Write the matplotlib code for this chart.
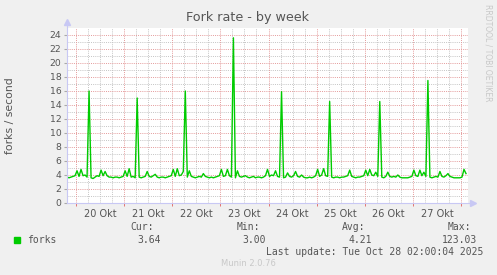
import numpy as np
import matplotlib
matplotlib.use('Agg')
import matplotlib.pyplot as plt

# fork rate, one value per hour over the week window (hour 0 = start of graph)
forks = [
    3.7, 3.6, 3.7, 3.8, 3.9, 4.6, 3.8, 4.8, 3.9, 4.0,
    3.7, 16.0, 3.6, 3.5, 3.7, 3.9, 3.8, 4.7, 3.9, 4.5,
    3.9, 3.7, 3.7, 3.6, 3.7, 3.7, 3.6, 3.7, 3.8, 4.6,
    3.8, 4.9, 3.7, 3.8, 3.6, 15.0, 3.7, 3.6, 3.7, 3.8,
    4.5, 3.8, 3.7, 3.9, 4.1, 3.7, 3.6, 3.7, 3.7, 3.6,
    3.7, 3.8, 3.9, 4.8, 3.8, 4.9, 3.9, 4.0, 4.5, 16.0,
    3.7, 4.6, 3.8, 3.7, 3.6, 3.7, 3.8, 3.7, 4.2, 3.8,
    3.7, 3.6, 3.7, 3.6, 3.7, 3.8, 3.9, 4.8, 3.8, 3.9,
    4.8, 3.9, 3.7, 23.6, 3.6, 4.6, 3.8, 3.7, 3.8, 3.9,
    3.7, 3.6, 3.7, 3.8, 3.6, 3.7, 3.7, 3.6, 3.7, 3.9,
    4.8, 3.8, 4.0, 3.9, 4.6, 3.8, 3.7, 15.9, 3.6, 3.7,
    4.3, 3.8, 3.7, 3.9, 4.5, 3.8, 3.7, 4.0, 3.7, 3.6,
    3.6, 3.7, 3.6, 3.7, 3.9, 4.8, 3.8, 4.0, 4.9, 3.9,
    3.8, 14.5, 3.7, 3.6, 3.7, 3.7, 3.6, 3.7, 3.7, 3.8,
    3.9, 4.7, 3.8, 3.7, 3.6, 3.7, 3.7, 3.8, 3.9, 4.7,
    3.9, 4.8, 4.0, 3.9, 4.4, 3.8, 14.5, 3.7, 3.6, 3.8,
    4.4, 3.8, 3.7, 3.8, 3.7, 4.0, 3.7, 3.6, 3.6, 3.6,
    3.6, 3.7, 3.8, 4.7, 3.9, 3.8, 4.7, 3.9, 4.4, 3.8,
    17.5, 3.7, 3.6, 3.7, 3.8, 3.7, 4.5, 3.8, 3.7, 3.9,
    4.2, 3.8, 3.7, 3.6, 3.6, 3.6, 3.6, 3.7, 4.8, 4.2,
]
day_labels = ['20 Okt', '21 Okt', '22 Okt', '23 Okt', '24 Okt', '25 Okt', '26 Okt', '27 Okt']
first_midnight = 4.5  # hours after graph start
stat_names = ['Cur:', 'Min:', 'Avg:', 'Max:']
stat_values = ['3.64', '3.00', '4.21', '123.03']

W, H = 497, 275
BG = '#F0F0F0'
TXT = '#555555'
GREEN = '#00CC00'
MAJOR = '#E49A9A'
MINOR = '#C4C4C4'
AXIS = '#C8C8F4'
DOTS = (0, (1, 1.2))

fig = plt.figure(figsize=(W / 100, H / 100), dpi=100, facecolor=BG)
ax = fig.add_axes([67 / W, 72 / H, 401 / W, 175 / H])
ax.set_facecolor('white')
ax.set_xlim(0, 200)
ax.set_ylim(0, 25)

def px(x, y):
    return x / W, 1 - y / H

# grid
midnights = [first_midnight + 24 * i for i in range(9)]
for h in np.arange(first_midnight - 24, 200, 6):
    if h > 0 and h not in midnights:
        ax.axvline(h, color=MINOR, lw=0.7, ls=DOTS, zorder=1)
for v in range(1, 25, 2):
    ax.axhline(v, color=MINOR, lw=0.7, ls=DOTS, zorder=1)
for h in midnights:
    if h < 200:
        ax.axvline(h, color=MAJOR, lw=0.7, ls=DOTS, zorder=2)
for v in range(2, 25, 2):
    ax.axhline(v, color=MAJOR, lw=0.7, ls=DOTS, zorder=2)

hours = np.arange(len(forks))
ax.plot(hours, forks, color=GREEN, lw=1.0, zorder=5)

for s in ax.spines.values():
    s.set_visible(False)

# axis lines with arrows
ax.plot([0, 1.012], [0, 0], transform=ax.transAxes, color=AXIS, lw=0.8, clip_on=False, zorder=6)
ax.plot([0, 0], [0, 1.035], transform=ax.transAxes, color=AXIS, lw=0.8, clip_on=False, zorder=6)
ax.plot(1.012, 0, marker='>', transform=ax.transAxes, color=AXIS, ms=4.5, clip_on=False, zorder=6)
ax.plot(0, 1.035, marker='^', transform=ax.transAxes, color=AXIS, ms=4.5, clip_on=False, zorder=6)

ax.set_yticks(range(0, 25, 2))
ax.tick_params(axis='y', length=2, color='#AAAAAA', labelsize=6.7, labelcolor=TXT, pad=2)
ax.set_xticks([first_midnight + 12 + 24 * i for i in range(len(day_labels))])
ax.set_xticklabels(day_labels)
ax.tick_params(axis='x', which='major', length=0, labelsize=7, labelcolor=TXT, pad=4)
ax.set_xticks([m for m in midnights if m < 200], minor=True)
ax.tick_params(axis='x', which='minor', length=2, color='#E06060', width=0.6)

fig.text(*px(248, 18), 'Fork rate - by week', ha='center', va='center', fontsize=9.2, color=TXT)
fig.text(*px(10, 116), 'forks / second', ha='center', va='center', rotation=90, fontsize=7.8, color=TXT)
fig.text(*px(488, 4), 'RRDTOOL / TOBI OETIKER', ha='center', va='top', rotation=270, fontsize=5.5, color='#C8C8C8')

# legend
fig.patches.append(plt.Rectangle(px(14, 243), 6 / W, 6 / H, transform=fig.transFigure, color=GREEN))
mono = dict(family='DejaVu Sans Mono', fontsize=7, color=TXT, va='center')
fig.text(*px(27, 240), 'forks', ha='left', **mono)
for name, val, xh, xv in zip(stat_names, stat_values, [154, 260, 365, 471], [161, 266, 372, 477]):
    fig.text(*px(xh, 227), name, ha='right', **mono)
    fig.text(*px(xv, 240), val, ha='right', **mono)
fig.text(*px(483, 252), 'Last update: Tue Oct 28 02:00:04 2025', ha='right', **mono)
fig.text(*px(248, 264), 'Munin 2.0.76', ha='center', va='center', fontsize=6, color='#C8C8C8')

fig.savefig('out.png', dpi=100, facecolor=BG)
